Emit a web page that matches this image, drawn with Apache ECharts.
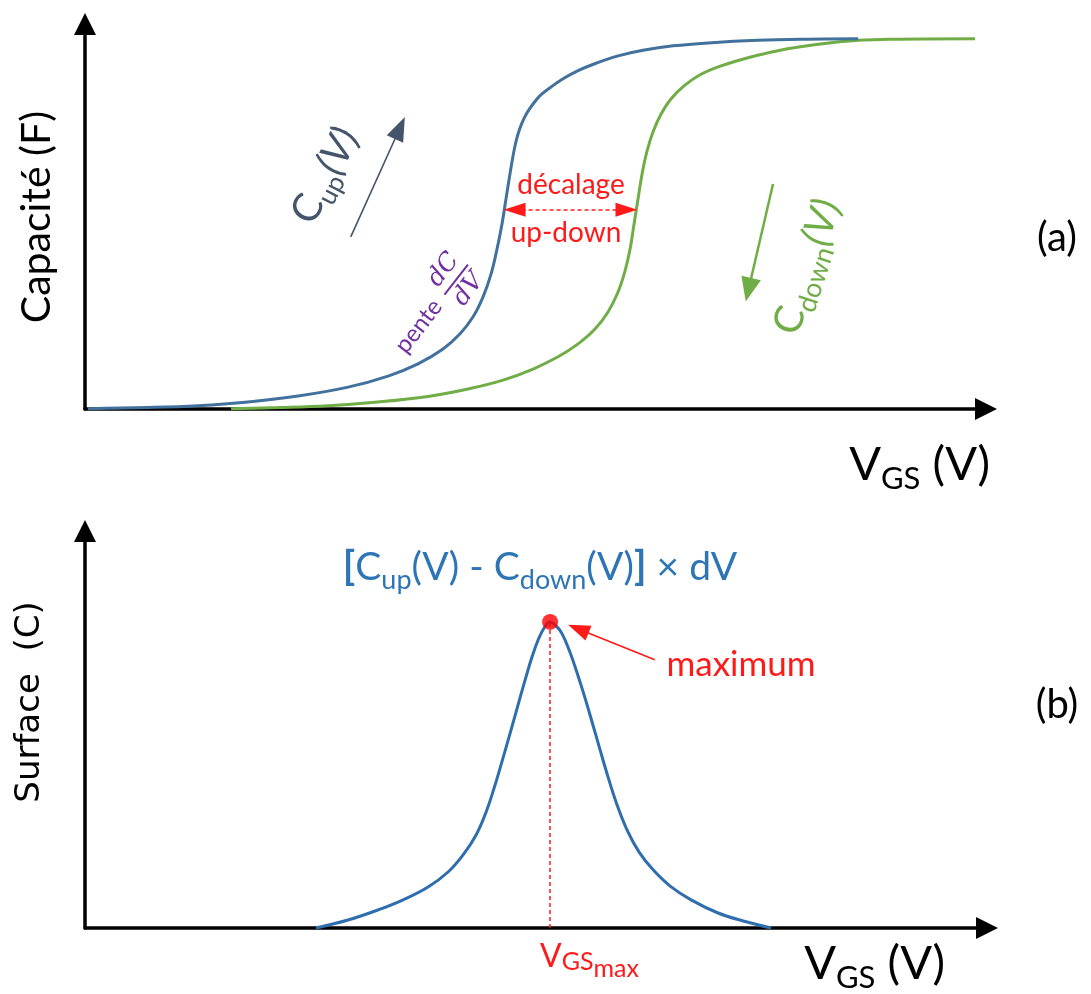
<!DOCTYPE html>
<html><head><meta charset="utf-8">
<script src="https://cdn.jsdelivr.net/npm/echarts@6/dist/echarts.min.js"></script>
<style>html,body{margin:0;padding:0;background:#fff}#c{width:1091px;height:994px}</style>
</head><body><div id="c"></div>
<script>
// ---- Panel (a): C(V) hysteresis (V_GS in arbitrary volts, C normalised) ----
const cUpV   = [0.033,0.692,1.242,1.791,2.341,2.890,3.330,3.659,3.934,4.121,4.264,4.374,4.462,4.527,4.582,4.626,4.659,4.692,4.725,4.758,4.802,4.857,4.923,5.011,5.121,5.253,5.418,5.615,5.857,6.132,6.462,6.846,7.396,7.945,8.495];
const cUpC   = [0.001,0.004,0.009,0.019,0.035,0.059,0.089,0.122,0.162,0.203,0.249,0.303,0.365,0.432,0.500,0.568,0.619,0.668,0.711,0.743,0.773,0.800,0.824,0.849,0.870,0.892,0.914,0.934,0.954,0.969,0.981,0.989,0.996,0.999,1.0];
const cDownV = [1.604,2.121,2.670,3.220,3.769,4.209,4.593,4.923,5.198,5.418,5.604,5.747,5.857,5.934,5.989,6.033,6.077,6.121,6.176,6.242,6.330,6.440,6.582,6.758,6.989,7.286,7.615,8.055,8.495,8.934,9.780];
const cDownC = [0.001,0.004,0.009,0.019,0.034,0.054,0.078,0.108,0.141,0.176,0.216,0.262,0.316,0.373,0.432,0.500,0.568,0.635,0.697,0.749,0.797,0.838,0.873,0.903,0.927,0.949,0.968,0.985,0.996,0.999,1.0];
// ---- Panel (b): surface [Cup - Cdown] x dV ----
const surfV = [2.538,2.890,3.220,3.495,3.769,3.989,4.154,4.297,4.407,4.505,4.593,4.681,4.758,4.835,4.912,4.978,5.044,5.110,5.176,5.242,5.319,5.396,5.484,5.571,5.659,5.747,5.846,5.956,6.088,6.242,6.429,6.659,6.956,7.231,7.538];
const surfQ = [0,0.026,0.059,0.092,0.134,0.183,0.239,0.304,0.379,0.467,0.556,0.647,0.729,0.810,0.886,0.941,0.980,1.0,0.987,0.961,0.908,0.843,0.761,0.673,0.582,0.493,0.402,0.320,0.248,0.190,0.137,0.092,0.049,0.023,0];
const vgsMax = 5.11, surfMax = 1.0;
// ---- annotation arrows, in data units ----
const upArrow    = [[2.92,0.465],[3.46,0.759]];
const downArrow  = [[7.56,0.608],[7.29,0.322]];
const shiftArrow = [[4.72,0.538],[5.95,0.538]];
const maxArrow   = [[6.26,0.876],[5.42,0.977]];
// axis ranges
const xMaxA = 9.9, yMaxA = 1.04, xMaxB = 9.91, yMaxB = 1.297;

const zip = (a,b) => a.map((v,i)=>[v,b[i]]);
const F = 'Lato';
const RED = '#FF1A1A';

const axisLineStyle = {show:true, symbol:['none','triangle'], symbolSize:[22,22], lineStyle:{color:'#000', width:3.5}};
function ax(grid,max){return {type:'value',gridIndex:grid,min:0,max:max,axisLine:axisLineStyle,axisTick:{show:false},axisLabel:{show:false},splitLine:{show:false}};}

function arrowLine(pts,color,width,size,type,both){
  return [{coord:pts[0],symbol:both?'triangle':'none',symbolSize:size,lineStyle:{color:color,width:width,type:type||'solid'}},
          {coord:pts[1],symbol:'triangle',symbolSize:size}];
}

function txt(x,y,text,opts){
  const st = Object.assign({text:text, fill:'#000', fontFamily:F, fontSize:30, align:'center', verticalAlign:'middle'}, opts.style||{});
  st.textAlign = st.align; st.textVerticalAlign = st.verticalAlign;
  return {type:'text', x:x, y:y, rotation:opts.rot||0, z:100, style:st};
}

// text with subscript parts; (x,y) = main baseline anchor
const mctx = document.createElement('canvas').getContext('2d');
function fontStr(p){return (p.it?'italic ':'')+(p.b?'bold ':'')+p.fs+'px '+(p.fam||F);}
function richGroup(x,y,parts,opts){
  const w = parts.map(p=>{mctx.font=fontStr(p); return mctx.measureText(p.t).width;});
  const total = w.reduce((a,b)=>a+b,0);
  let cx = opts.align==='right' ? -total : (opts.align==='left' ? 0 : -total/2);
  const children = parts.map((p,i)=>{
    const el = {type:'text', x:cx, y:(p.dy||0)-0.34*p.fs, style:{text:p.t, fontSize:p.fs, fontFamily:p.fam||F,
      fontStyle:p.it?'italic':'normal', fontWeight:p.b?'bold':'normal', fill:opts.color||'#000',
      align:'left', verticalAlign:'middle', textAlign:'left', textVerticalAlign:'middle'}};
    cx += w[i]; return el;
  });
  return {type:'group', x:x, y:y, rotation:opts.rot||0, z:100, children:children};
}

const lineSeries = (xi, data, color, z) => ({type:'line', xAxisIndex:xi, yAxisIndex:xi, data:data, smooth:0.4,
  showSymbol:false, silent:true, lineStyle:{color:color, width:3}, z:z});

const chart = echarts.init(document.getElementById('c'), null, {renderer:'canvas'});
chart.setOption({
  animation:false,
  backgroundColor:'#fff',
  grid:[
    {left:85, top:24, width:901, height:385},
    {left:85, top:531, width:902, height:397}
  ],
  xAxis:[ax(0,xMaxA), ax(1,xMaxB)],
  yAxis:[ax(0,yMaxA), ax(1,yMaxB)],
  series:[
    Object.assign(lineSeries(0, zip(cUpV,cUpC), '#41719C', 3), {
     markLine:{silent:true, label:{show:false}, animation:false,
       data:[arrowLine(upArrow,'#44546A',1.6,[18,24]), arrowLine(shiftArrow,RED,1.5,[14,22],[4,3],true)]}}),
    Object.assign(lineSeries(0, zip(cDownV,cDownC), '#70AD47', 2), {
     markLine:{silent:true, label:{show:false}, animation:false,
       data:[arrowLine(downArrow,'#70AD47',2.5,[20,24])]}}),
    Object.assign(lineSeries(1, zip(surfV,surfQ), '#2E6DAE', 3), {
     markLine:{silent:true, label:{show:false}, animation:false,
       data:[
         [{coord:[vgsMax,0],symbol:'none',lineStyle:{color:RED,width:1.5,type:[4,3]}},{coord:[vgsMax,surfMax],symbol:'none'}],
         arrowLine(maxArrow,RED,1.6,[16,22])
       ]}}),
    {type:'scatter', xAxisIndex:1, yAxisIndex:1, data:[[vgsMax,surfMax]], symbolSize:16, itemStyle:{color:'#FF0000'}, z:5, silent:true}
  ],
  graphic:[
    // axis titles
    txt(37,217,'Capacité (F)',{rot:Math.PI/2, style:{fontSize:41}}),
    txt(30,702,'Surface  (C)',{rot:Math.PI/2, style:{fontSize:34, fontFamily:'DejaVu Sans'}}),
    richGroup(990,481,[{t:'V',fs:47},{t:'GS',fs:31,dy:9},{t:' (V)',fs:47}],{align:'right'}),
    richGroup(945,980,[{t:'V',fs:47},{t:'GS',fs:31,dy:9},{t:' (V)',fs:47}],{align:'right'}),
    txt(1057,238,'(a)',{style:{fontSize:40}}),
    txt(1057,705,'(b)',{style:{fontSize:40}}),
    // panel (a) annotations
    richGroup(337,182,[{t:'C',fs:40},{t:'up',fs:26,dy:8},{t:'(V)',fs:40,it:true}],{rot:62.5*Math.PI/180, color:'#44546A'}),
    richGroup(820,271,[{t:'C',fs:40},{t:'down',fs:27,dy:8},{t:'(V)',fs:40,it:true}],{rot:72*Math.PI/180, color:'#70AD47'}),
    txt(571,185,'décalage',{style:{fill:RED, fontSize:28}}),
    txt(566,233,'up-down',{style:{fill:RED, fontSize:28}}),
    {type:'group', x:400, y:350, rotation:52*Math.PI/180, z:100, children:[
      {type:'text', x:0, y:0, style:{text:'pente', fill:'#7030A0', fontFamily:F, fontSize:24, align:'left', verticalAlign:'middle', textAlign:'left', textVerticalAlign:'middle'}},
      {type:'text', x:90, y:-15, style:{text:'dC', fill:'#7030A0', fontFamily:'DejaVu Serif', fontStyle:'italic', fontSize:25, align:'center', verticalAlign:'middle', textAlign:'center', textVerticalAlign:'middle'}},
      {type:'line', shape:{x1:71,y1:1,x2:109,y2:1}, style:{stroke:'#7030A0', lineWidth:2}},
      {type:'text', x:90, y:17, style:{text:'dV', fill:'#7030A0', fontFamily:'DejaVu Serif', fontStyle:'italic', fontSize:25, align:'center', verticalAlign:'middle', textAlign:'center', textVerticalAlign:'middle'}}
    ]},
    // panel (b) annotations
    richGroup(540,581,[{t:'[',fs:40,b:true},{t:'C',fs:39},{t:'up',fs:27,dy:8},{t:'(V) - C',fs:39},{t:'down',fs:27,dy:8},{t:'(V)',fs:39},{t:']',fs:40,b:true},{t:' × dV',fs:39}],{color:'#2E75B6'}),
    txt(741,665,'maximum',{style:{fill:RED, fontSize:35}}),
    richGroup(540,968,[{t:'V',fs:32},{t:'GS',fs:25,dy:2},{t:'max',fs:25,dy:9}],{align:'left', color:RED})
  ]
});
</script></body></html>
